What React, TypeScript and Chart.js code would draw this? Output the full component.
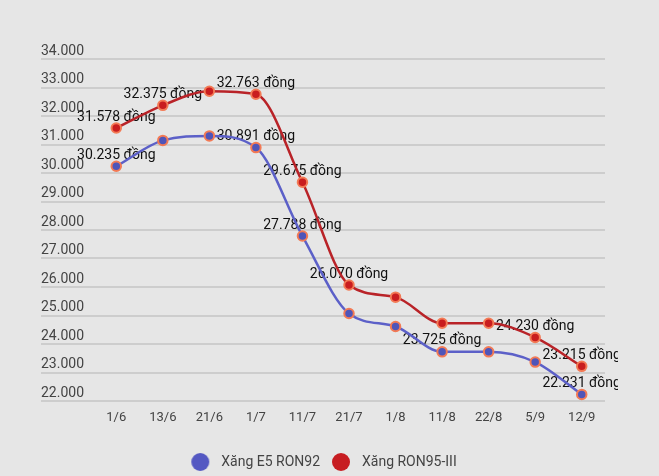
import React, { useEffect, useRef } from 'react';
import { Chart, registerables } from 'chart.js';

Chart.register(...registerables);

const categories = ['1/6', '13/6', '21/6', '1/7', '11/7', '21/7', '1/8', '11/8', '22/8', '5/9', '12/9'];
const e5Values = [30235, 31144, 31302, 30891, 27788, 25071, 24615, 23725, 23725, 23366, 22231];
const ron95Values = [31578, 32375, 32870, 32763, 29675, 26070, 25644, 24727, 24727, 24230, 23215];
const e5Labeled = [true, false, false, true, true, false, false, true, false, false, true];
const ron95Labeled = [true, true, false, true, true, true, false, false, false, true, true];
const seriesNames = ['Xăng E5 RON92', 'Xăng RON95-III'];
const yMin = 22000;
const yMax = 34000;
const yStep = 1000;
const unit = ' đồng';

const fmt = (v: number) => Math.round(v).toString().replace(/\B(?=(\d{3})+(?!\d))/g, '.');

function makeDot(color: string) {
  const c = document.createElement('canvas');
  c.width = 25;
  c.height = 18;
  const g = c.getContext('2d')!;
  g.fillStyle = color;
  g.beginPath();
  g.arc(11, 9, 9, 0, Math.PI * 2);
  g.fill();
  return c;
}

const dataLabelPlugin = {
  id: 'dataLabels',
  beforeDatasetsDraw(chart: any) {
    const ctx = chart.ctx;
    ctx.save();
    ctx.font = '14px Roboto';
    ctx.fillStyle = '#111';
    ctx.textAlign = 'center';
    ctx.textBaseline = 'middle';
    chart.data.datasets.forEach((ds: any, di: number) => {
      const meta = chart.getDatasetMeta(di);
      const flags = di === 0 ? e5Labeled : ron95Labeled;
      meta.data.forEach((pt: any, i: number) => {
        if (!flags[i]) return;
        ctx.fillText(fmt(ds.data[i]) + unit, pt.x, pt.y - 11);
      });
    });
    ctx.restore();
  },
};

export default function App() {
  const ref = useRef<HTMLCanvasElement>(null);
  useEffect(() => {
    document.body.style.background = '#e6e6e6';
    document.body.style.overflow = 'hidden';
    document.documentElement.style.overflow = 'hidden';
    const dots = [makeDot('#5458c2'), makeDot('#c71d22')];
    const chart = new Chart(ref.current!, {
      type: 'line',
      data: {
        labels: categories,
        datasets: [
          {
            label: seriesNames[0],
            data: e5Values,
            borderColor: '#5c60c8',
            backgroundColor: '#4f55b9',
            pointBackgroundColor: '#4f55b9',
            pointBorderColor: '#f37a55',
            pointBorderWidth: 2,
            pointRadius: 4.75,
            borderWidth: 2.5,
            cubicInterpolationMode: 'monotone',
            fill: false,
          },
          {
            label: seriesNames[1],
            data: ron95Values,
            borderColor: '#b92328',
            backgroundColor: '#c91d1f',
            pointBackgroundColor: '#c91d1f',
            pointBorderColor: '#f37a55',
            pointBorderWidth: 2,
            pointRadius: 4.75,
            borderWidth: 2.5,
            cubicInterpolationMode: 'monotone',
            fill: false,
          },
        ],
      },
      options: {
        animation: false,
        responsive: true,
        maintainAspectRatio: false,
        devicePixelRatio: 1,
        layout: { padding: { left: 33, right: 13, top: 51, bottom: 5 } },
        scales: {
          x: {
            offset: true,
            grid: { display: false },
            border: { display: false },
            ticks: {
              font: { family: 'Roboto', size: 13 },
              color: '#444',
              padding: 1,
              maxRotation: 0,
              autoSkip: false,
            },
            afterFit: (s: any) => {
              s.height = 44;
            },
          },
          y: {
            min: yMin,
            max: yMax,
            ticks: {
              stepSize: yStep,
              callback: (v: any) => fmt(Number(v)),
              font: { family: 'Roboto', size: 14 },
              color: '#444',
              crossAlign: 'far',
              labelOffset: -8,
            },
            grid: { color: '#cdcdcd', lineWidth: 2, tickLength: 52, drawTicks: true },
            border: { display: false },
            afterFit: (s: any) => {
              s.width = 52;
            },
          },
        },
        plugins: {
          tooltip: { enabled: false },
          legend: {
            position: 'bottom',
            labels: {
              usePointStyle: true,
              pointStyleWidth: 25,
              boxHeight: 14,
              padding: 10,
              font: { family: 'Roboto', size: 14 },
              color: '#444',
              generateLabels: (ch: any) =>
                Chart.defaults.plugins.legend.labels
                  .generateLabels(ch)
                  .map((item: any, i: number) => ({ ...item, pointStyle: dots[i] })),
            },
          },
        },
      } as any,
      plugins: [dataLabelPlugin],
    });
    return () => chart.destroy();
  }, []);
  return (
    <div style={{ position: 'relative', width: 610, height: 476 }}>
      <canvas ref={ref} />
    </div>
  );
}
